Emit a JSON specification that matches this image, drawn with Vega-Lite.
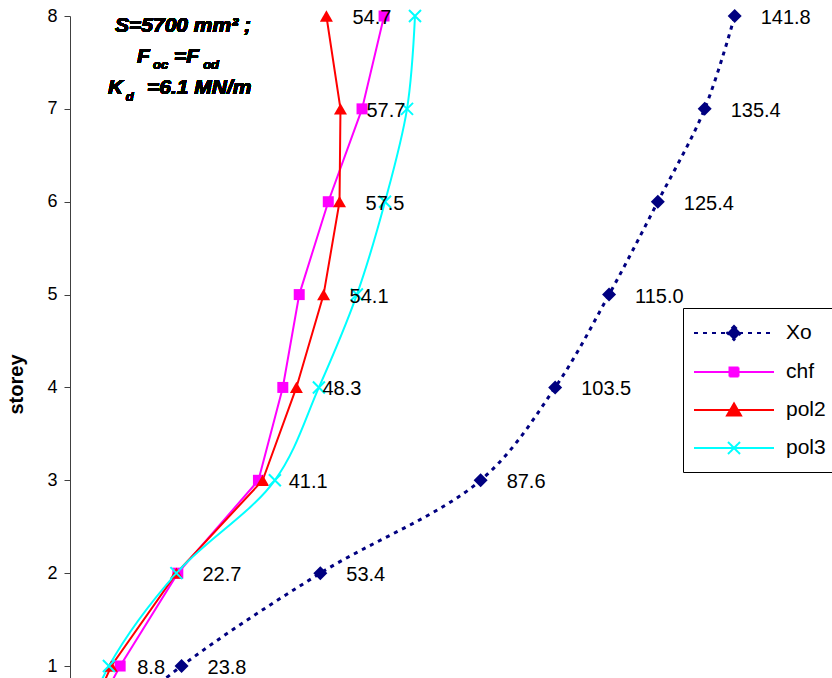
{
  "$schema": "https://vega.github.io/schema/vega-lite/v6.json",
  "width": 750,
  "height": 662,
  "autosize": {"type": "none"},
  "padding": {"left": 70, "top": 16, "right": 12, "bottom": 0},
  "background": "white",
  "config": {
    "view": {"stroke": null},
    "font": "Liberation Sans"
  },
  "data": {
    "values": [
      {"series": "Xo", "storey": 0, "x": 0},
      {"series": "Xo", "storey": 1, "x": 23.8},
      {"series": "Xo", "storey": 2, "x": 53.4},
      {"series": "Xo", "storey": 3, "x": 87.6},
      {"series": "Xo", "storey": 4, "x": 103.5},
      {"series": "Xo", "storey": 5, "x": 115.0},
      {"series": "Xo", "storey": 6, "x": 125.4},
      {"series": "Xo", "storey": 7, "x": 135.4},
      {"series": "Xo", "storey": 8, "x": 141.8},
      {"series": "chf", "storey": 0, "x": 0},
      {"series": "chf", "storey": 1, "x": 10.7},
      {"series": "chf", "storey": 2, "x": 23.0},
      {"series": "chf", "storey": 3, "x": 40.2},
      {"series": "chf", "storey": 4, "x": 45.4},
      {"series": "chf", "storey": 5, "x": 48.9},
      {"series": "chf", "storey": 6, "x": 55.1},
      {"series": "chf", "storey": 7, "x": 62.3},
      {"series": "chf", "storey": 8, "x": 67.0},
      {"series": "pol2", "storey": 0, "x": 0},
      {"series": "pol2", "storey": 1, "x": 8.8},
      {"series": "pol2", "storey": 2, "x": 22.7},
      {"series": "pol2", "storey": 3, "x": 41.1},
      {"series": "pol2", "storey": 4, "x": 48.3},
      {"series": "pol2", "storey": 5, "x": 54.1},
      {"series": "pol2", "storey": 6, "x": 57.5},
      {"series": "pol2", "storey": 7, "x": 57.7},
      {"series": "pol2", "storey": 8, "x": 54.7},
      {"series": "pol3", "storey": 0, "x": 0},
      {"series": "pol3", "storey": 1, "x": 8.3},
      {"series": "pol3", "storey": 2, "x": 22.7},
      {"series": "pol3", "storey": 3, "x": 43.7},
      {"series": "pol3", "storey": 4, "x": 53.1},
      {"series": "pol3", "storey": 5, "x": 61.2},
      {"series": "pol3", "storey": 6, "x": 67.2},
      {"series": "pol3", "storey": 7, "x": 71.9},
      {"series": "pol3", "storey": 8, "x": 73.6}
    ]
  },
  "encoding": {
    "x": {"field": "x", "type": "quantitative", "scale": {"domain": [0, 160], "nice": false, "zero": false}, "axis": null},
    "y": {
      "field": "storey", "type": "quantitative",
      "scale": {"domain": [0.871, 8], "nice": false, "zero": false},
      "axis": {
        "title": "storey", "values": [1, 2, 3, 4, 5, 6, 7, 8], "format": "d",
        "grid": false, "domainColor": "#404040", "tickColor": "#404040", "tickSize": 6,
        "labelFontSize": 18, "labelColor": "black", "labelPadding": 7, "labelFont": "Liberation Sans",
        "titleFontSize": 20, "titleFontWeight": "bold", "titleColor": "black", "titleFont": "Liberation Sans",
        "titlePadding": 20, "titleY": 368
      }
    }
  },
  "layer": [
    {
      "transform": [{"filter": "datum.series === 'Xo'"}],
      "mark": {"type": "line", "interpolate": "catmull-rom", "strokeWidth": 3, "strokeDash": [4, 5], "clip": true},
      "encoding": {
        "order": {"field": "storey", "type": "quantitative"},
        "color": {
          "field": "series", "type": "nominal",
          "scale": {"domain": ["Xo", "chf", "pol2", "pol3"], "range": ["#000080", "#FF00FF", "#FF0000", "#00FFFF"]},
          "legend": {
            "title": null, "orient": "none", "legendX": 613, "legendY": 292,
            "padding": 14, "strokeColor": "black", "fillColor": "white", "cornerRadius": 0,
            "symbolSize": 400, "symbolOffset": 26, "labelOffset": 41, "rowPadding": 17,
            "labelFontSize": 21, "labelFont": "Liberation Sans", "labelColor": "black",
            "symbolStrokeWidth": 2,
            "encode": {
              "symbols": {
                "update": {
                  "shape": {"signal": "datum.value === 'Xo' ? 'M-4,0H4M0,-0.7L0.7,0L0,0.7L-0.7,0Z' : datum.value === 'chf' ? 'M-4,0H4M-0.45,-0.45H0.45V0.45H-0.45Z' : datum.value === 'pol2' ? 'M-4,0H4M0,-0.65L0.7,0.55L-0.7,0.55Z' : 'M-4,0H4M-0.6,-0.6L0.6,0.6M-0.6,0.6L0.6,-0.6'"},
                  "fill": {"signal": "scale('color', datum.value)"},
                  "stroke": {"signal": "scale('color', datum.value)"},
                  "strokeDash": {"signal": "datum.value === 'Xo' ? [4, 5] : [1, 0]"},
                  "opacity": {"value": 1}
                }
              }
            }
          }
        }
      }
    },
    {
      "transform": [{"filter": "datum.series === 'chf' || datum.series === 'pol2'"}],
      "mark": {"type": "line", "strokeWidth": 2, "clip": true},
      "encoding": {
        "order": {"field": "storey", "type": "quantitative"},
        "color": {"field": "series", "type": "nominal"}
      }
    },
    {
      "transform": [{"filter": "datum.series === 'pol3'"}],
      "mark": {"type": "line", "interpolate": "catmull-rom", "strokeWidth": 2, "clip": true},
      "encoding": {
        "order": {"field": "storey", "type": "quantitative"},
        "color": {"field": "series", "type": "nominal"}
      }
    },
    {
      "transform": [{"filter": "datum.series === 'Xo' && datum.storey >= 1"}],
      "mark": {"type": "point", "shape": "diamond", "filled": true, "size": 196, "color": "#000080", "opacity": 1}
    },
    {
      "transform": [{"filter": "datum.series === 'chf' && datum.storey >= 1"}],
      "mark": {"type": "point", "shape": "square", "filled": true, "size": 121, "color": "#FF00FF", "opacity": 1}
    },
    {
      "transform": [{"filter": "datum.series === 'pol2' && datum.storey >= 1"}],
      "mark": {"type": "point", "shape": "triangle-up", "filled": true, "size": 169, "color": "#FF0000", "opacity": 1}
    },
    {
      "transform": [{"filter": "datum.series === 'pol3' && datum.storey >= 1"}],
      "mark": {"type": "point", "shape": "M-1,-1L1,1M-1,1L1,-1", "filled": false, "size": 144, "strokeWidth": 2, "color": "#00FFFF", "opacity": 1}
    },
    {
      "transform": [{"filter": "(datum.series === 'Xo' || datum.series === 'pol2') && datum.storey >= 1"}],
      "mark": {"type": "text", "align": "left", "baseline": "middle", "dx": 26, "dy": 2, "fontSize": 20, "font": "Liberation Sans", "color": "black"},
      "encoding": {"text": {"field": "x", "type": "quantitative", "format": ".1f"}}
    },
    {
      "mark": {"type": "text", "align": "left", "baseline": "middle", "fontSize": 21, "fontWeight": "bold", "fontStyle": "italic", "font": "Liberation Sans", "color": "black"},
      "encoding": {"x": {"datum": 9.6}, "y": {"datum": 7.89}, "text": {"value": "S=5700 mm² ;"}}
    },
    {
      "mark": {"type": "text", "align": "left", "baseline": "middle", "fontSize": 21, "fontWeight": "bold", "fontStyle": "italic", "font": "Liberation Sans", "color": "black"},
      "encoding": {"x": {"datum": 14.3}, "y": {"datum": 7.558}, "text": {"value": "F"}}
    },
    {
      "mark": {"type": "text", "align": "left", "baseline": "middle", "fontSize": 13, "fontWeight": "bold", "fontStyle": "italic", "font": "Liberation Sans", "color": "black"},
      "encoding": {"x": {"datum": 17.71}, "y": {"datum": 7.472}, "text": {"value": "oc"}}
    },
    {
      "mark": {"type": "text", "align": "left", "baseline": "middle", "fontSize": 21, "fontWeight": "bold", "fontStyle": "italic", "font": "Liberation Sans", "color": "black"},
      "encoding": {"x": {"datum": 22.2}, "y": {"datum": 7.558}, "text": {"value": "=F"}}
    },
    {
      "mark": {"type": "text", "align": "left", "baseline": "middle", "fontSize": 13, "fontWeight": "bold", "fontStyle": "italic", "font": "Liberation Sans", "color": "black"},
      "encoding": {"x": {"datum": 28.4}, "y": {"datum": 7.472}, "text": {"value": "od"}}
    },
    {
      "mark": {"type": "text", "align": "left", "baseline": "middle", "fontSize": 21, "fontWeight": "bold", "fontStyle": "italic", "font": "Liberation Sans", "color": "black"},
      "encoding": {"x": {"datum": 8.11}, "y": {"datum": 7.225}, "text": {"value": "K"}}
    },
    {
      "mark": {"type": "text", "align": "left", "baseline": "middle", "fontSize": 13, "fontWeight": "bold", "fontStyle": "italic", "font": "Liberation Sans", "color": "black"},
      "encoding": {"x": {"datum": 11.9}, "y": {"datum": 7.128}, "text": {"value": "d"}}
    },
    {
      "mark": {"type": "text", "align": "left", "baseline": "middle", "fontSize": 21, "fontWeight": "bold", "fontStyle": "italic", "font": "Liberation Sans", "color": "black"},
      "encoding": {"x": {"datum": 16.43}, "y": {"datum": 7.225}, "text": {"value": "=6.1 MN/m"}}
    }
  ]
}
